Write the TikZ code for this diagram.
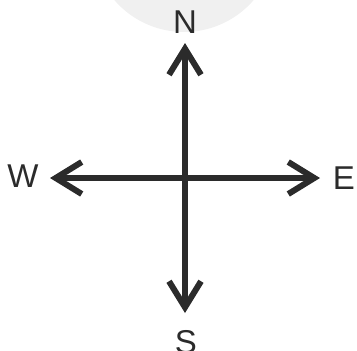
\documentclass[tikz,border=0pt]{standalone}
\usepackage{fontspec}
\setmainfont{Liberation Sans}
\usetikzlibrary{arrows.meta}
\definecolor{ink}{HTML}{2B2B2B}
\definecolor{halo}{HTML}{F0F0F0}
\begin{document}
\begin{tikzpicture}[
    x=1pt, y=-1pt,
    axis/.style={draw=ink, line width=5.5pt,
        {Straight Barb[length=26pt, width=32pt, line width=6pt]}-{Straight Barb[length=26pt, width=32pt, line width=6pt]}},
    lab/.style={inner sep=0pt, text=ink, font=\fontsize{33}{33}\selectfont}
]
\useasboundingbox (0,0) rectangle (357,351);
\clip (0,0) rectangle (357,351);

\fill[halo] (184,-60) circle (92);

\coordinate (c) at (185,178);
\coordinate (n) at (185,43);
\coordinate (s) at (185,313);
\coordinate (w) at (50,178);
\coordinate (e) at (320,178);

\draw[axis] (s) -- (n);
\draw[axis] (w) -- (e);

\node[lab] (ln) at (185,22) {N};
\node[lab] (ls) at (186,342) {S};
\node[lab] (lw) at (23,176) {W};
\node[lab] (le) at (344,178) {E};
\end{tikzpicture}
\end{document}
